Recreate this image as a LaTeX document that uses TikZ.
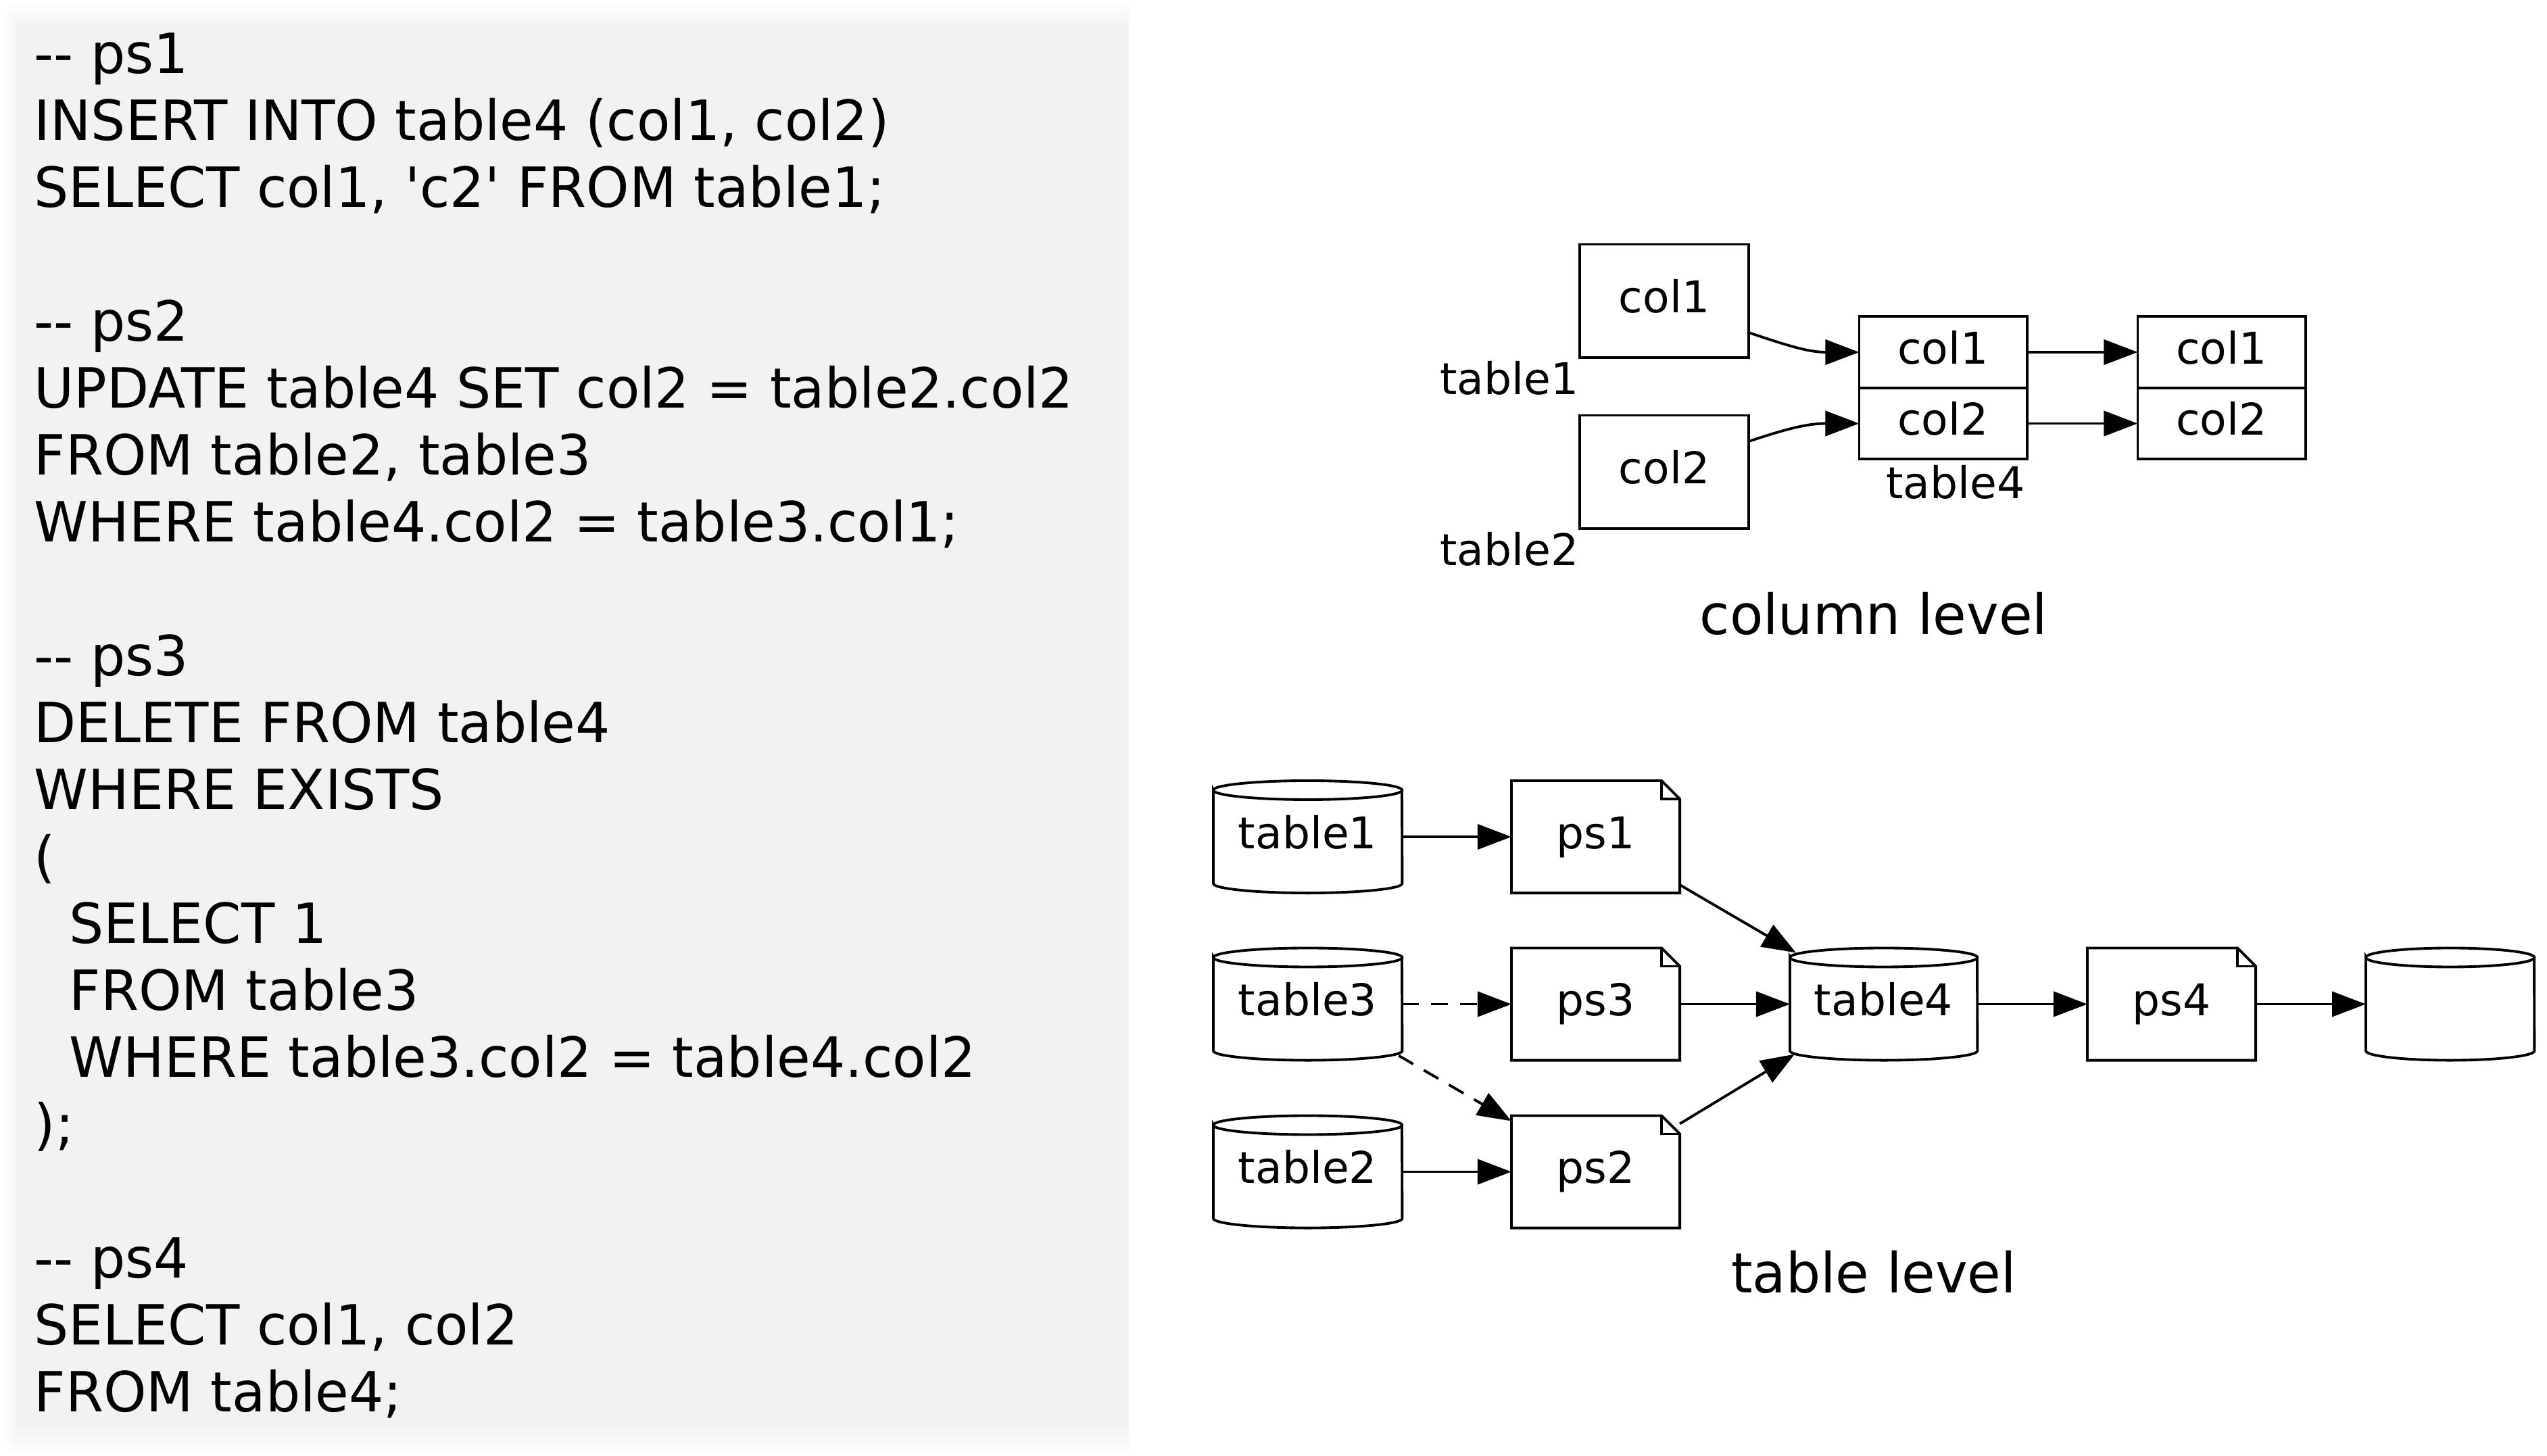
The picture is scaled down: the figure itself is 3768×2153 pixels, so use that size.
\documentclass[tikz,border=0pt]{standalone}
\usepackage{fontspec}
\setmainfont{DejaVu Sans}
\newfontfamily\codefont[FakeStretch=0.985]{DejaVu Sans}
\usetikzlibrary{arrows.meta}
\definecolor{panel}{RGB}{242,242,242}
\definecolor{panelA}{RGB}{252,252,252}
\definecolor{panelB}{RGB}{248,248,248}
\definecolor{panelC}{RGB}{245,245,245}
\newcommand\gfont{\fontsize{18.4}{22}\selectfont}
\newcommand\codesize{\codefont\fontsize{23.3}{28}\selectfont}
\tikzset{
  shapeline/.style={line width=1.1pt, black},
  arr/.style={line width=1.1pt, -{Triangle[length=0.5cm,width=0.37cm]}},
  dasharr/.style={arr, dash pattern=on 0.25cm off 0.18cm},
  gtext/.style={font=\gfont, text height=0.5cm, text depth=0.16cm},
  colbox/.style={gtext, draw, line width=1.1pt, minimum width=2.5cm, minimum height=1.67cm, inner sep=0, outer sep=0},
  cellbox/.style={gtext, draw, line width=1.1pt, minimum width=2.48cm, minimum height=1.055cm, inner sep=0, outer sep=0},
  notebox/.style={gtext, minimum width=2.49cm, minimum height=1.66cm, inner sep=0, outer sep=0},
  cylbox/.style={gtext, minimum height=1.66cm, inner sep=0, outer sep=0},
  lbl/.style={anchor=base, inner sep=0, font=\gfont},
  codeline/.style={anchor=base west, inner sep=0, font=\codesize},
  titletext/.style={anchor=base, inner sep=0, font=\codesize}
}
\newcommand\dbcyl[5]{%
  \node[cylbox, minimum width=#4*0.01cm] (#1) at (#2,#3) {#5};
  \draw[shapeline] ([yshift=-0.14cm]#1.north west)
    arc[start angle=180, end angle=-180, x radius=#4*0.005cm, y radius=0.14cm]
    -- ([yshift=0.14cm]#1.south west)
    arc[start angle=180, end angle=360, x radius=#4*0.005cm, y radius=0.14cm]
    -- ([yshift=-0.14cm]#1.north east);
}
\newcommand\psnote[4]{%
  \node[notebox] (#1) at (#2,#3) {#4};
  \draw[shapeline, line join=miter] (#1.south west) -- (#1.north west)
    -- ([xshift=-0.27cm]#1.north east) -- ([yshift=-0.27cm]#1.north east)
    -- (#1.south east) -- cycle;
  \draw[shapeline] ([xshift=-0.27cm]#1.north east)
    -- ([xshift=-0.27cm,yshift=-0.27cm]#1.north east)
    -- ([yshift=-0.27cm]#1.north east);
}
\begin{document}
\begin{tikzpicture}[x=0.01cm, y=-0.01cm]
\useasboundingbox (0,0) rectangle (3768,2153);
% code panel
\fill[panelA] (10,8) rectangle (1672,2145);
\fill[panelB] (15,18) rectangle (1671,2138);
\fill[panelC] (20,28) rectangle (1670,2125);
\fill[panel] (24,38) rectangle (1669,2110);
% code lines
\node[codeline] (c1) at (50,108) {-{}- ps1};
\node[codeline] (c2) at (50,207) {INSERT INTO table4 (col1, col2)};
\node[codeline] (c3) at (50,306) {SELECT col1, \textquotesingle c2\textquotesingle{} FROM table1;};
\node[codeline] (c5) at (50,504) {-{}- ps2};
\node[codeline] (c6) at (50,603) {UPDATE table4 SET col2 = table2.col2};
\node[codeline] (c7) at (50,702) {FROM table2, table3};
\node[codeline] (c8) at (50,801) {WHERE table4.col2 = table3.col1;};
\node[codeline] (c10) at (50,999) {-{}- ps3};
\node[codeline] (c11) at (50,1098) {DELETE FROM table4};
\node[codeline] (c12) at (50,1197) {WHERE EXISTS};
\node[codeline] (c13) at (50,1296) {(};
\node[codeline] (c14) at (102,1395) {SELECT 1};
\node[codeline] (c15) at (102,1494) {FROM table3};
\node[codeline] (c16) at (102,1593) {WHERE table3.col2 = table4.col2};
\node[codeline] (c17) at (50,1692) {);};
\node[codeline] (c19) at (50,1890) {-{}- ps4};
\node[codeline] (c20) at (50,1989) {SELECT col1, col2};
\node[codeline] (c21) at (50,2088) {FROM table4;};
% column level
\node[colbox] (t1c1) at (2462,445) {col1};
\node[colbox] (t2c2) at (2462,698) {col2};
\node[lbl] (lt1) at (2233,583) {table1};
\node[lbl] (lt2) at (2233,836) {table2};
\node[cellbox] (t4a) at (2874.5,521) {col1};
\node[cellbox] (t4b) at (2874.5,626.5) {col2};
\node[lbl] (lt4) at (2893,737) {table4};
\node[cellbox] (outa) at (3286.5,521) {col1};
\node[cellbox] (outb) at (3286.5,626.5) {col2};
\draw[arr] ([yshift=-0.47cm]t1c1.east) .. controls +(60,20) and +(-75,0) .. (t4a.west);
\draw[arr] ([yshift=0.45cm]t2c2.east) .. controls +(60,-20) and +(-75,0) .. (t4b.west);
\draw[arr] (t4a.east) -- (outa.west);
\draw[arr] (t4b.east) -- (outb.west);
\node[titletext] (tcol) at (2772,938) {column level};
% table level
\dbcyl{tab1}{1934.5}{1238}{279}{table1}
\dbcyl{tab3}{1934.5}{1485.5}{279}{table3}
\dbcyl{tab2}{1934.5}{1733.5}{279}{table2}
\psnote{ps1}{2360.5}{1238}{ps1}
\psnote{ps3}{2360.5}{1485.5}{ps3}
\psnote{ps2}{2360.5}{1733.5}{ps2}
\dbcyl{tab4}{2786.5}{1485.5}{277}{table4}
\psnote{ps4}{3212.5}{1485.5}{ps4}
\dbcyl{out}{3624.5}{1485.5}{249}{}
\draw[arr] (tab1.east) -- (ps1.west);
\draw[dasharr] (tab3.east) -- (ps3.west);
\draw[arr] (tab2.east) -- (ps2.west);
\draw[arr] (ps3.east) -- (tab4.west);
\draw[arr] (tab4.east) -- (ps4.west);
\draw[arr] (ps4.east) -- (out.west);
\draw[arr] ([yshift=0.12cm]ps1.south east) -- ([xshift=0.09cm,yshift=-0.07cm]tab4.north west);
\draw[arr] ([yshift=-0.12cm]ps2.north east) -- ([xshift=0.07cm,yshift=0.09cm]tab4.south west);
\draw[dasharr] ([xshift=-0.05cm,yshift=0.07cm]tab3.south east) -- ([yshift=-0.08cm]ps2.north west);
\node[titletext] (ttab) at (2772,1912) {table level};
\end{tikzpicture}
\end{document}
